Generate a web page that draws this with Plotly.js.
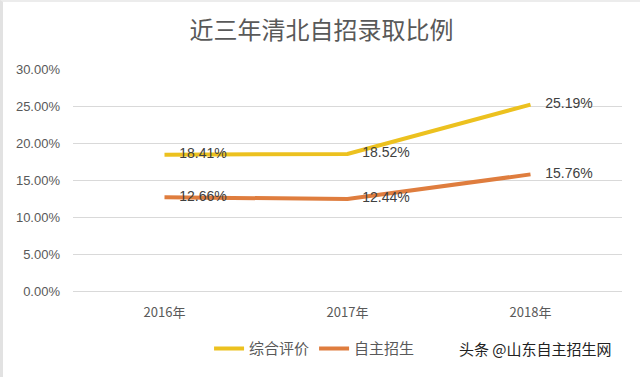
<!DOCTYPE html>
<html>
<head>
<meta charset="utf-8">
<script src="https://cdn.plot.ly/plotly-3.0.1.min.js"></script>
<style>
html,body{margin:0;padding:0;background:#fff;}
#wrap{width:637px;height:375px;border-left:3px solid #e2e2e2;border-top:2px solid #ececec;}
#chart{width:637px;height:375px;}
</style>
</head>
<body>
<div id="wrap"><div id="chart"></div></div>
<script>
var categories = ["2016年", "2017年", "2018年"];
var seriesNames = ["综合评价", "自主招生"];
var seriesColors = ["#ECC11F", "#DF7D3E"];
var zongheValues = [0.1841, 0.1852, 0.2519];
var zizhuValues = [0.1266, 0.1244, 0.1576];
var yTickValues = [0, 0.05, 0.10, 0.15, 0.20, 0.25, 0.30];
var yTickLabels = ["0.00%", "5.00%", "10.00%", "15.00%", "20.00%", "25.00%", "30.00%"];
var titleText = "近三年清北自招录取比例";
var watermark = "头条 @山东自主招生网";

function pctLabels(arr){ return arr.map(function(v){ return (v*100).toFixed(2) + "%"; }); }

var cjk = '"Noto Sans CJK SC", "Liberation Sans", sans-serif';
var latin = "Liberation Sans, Arial, sans-serif";

function dataTrace(vals, i){
  return {
    x: categories, y: vals, name: seriesNames[i], showlegend: false,
    type: "scatter", mode: "lines+markers+text",
    line: {color: seriesColors[i], width: 4},
    marker: {size: 22, opacity: 0, color: seriesColors[i]},
    text: pctLabels(vals), textposition: "middle right",
    textfont: {family: latin, size: 14, color: "#404040"},
    cliponaxis: false, hoverinfo: "skip"
  };
}
function legendTrace(i){
  return {
    x: [null], y: [null], name: seriesNames[i], type: "scatter", mode: "lines",
    line: {color: seriesColors[i], width: 4}, hoverinfo: "skip"
  };
}

var traces = [
  dataTrace(zongheValues, 0),
  dataTrace(zizhuValues, 1),
  legendTrace(0),
  legendTrace(1)
];

var layout = {
  width: 637, height: 375,
  margin: {l: 70, r: 18, t: 67, b: 79},
  paper_bgcolor: "#ffffff", plot_bgcolor: "#ffffff",
  showlegend: true,
  title: {text: titleText, x: 0.5, xanchor: "center", y: 0.925, yanchor: "middle",
          font: {family: cjk, size: 24, color: "#595959"}},
  xaxis: {
    type: "category", range: [-0.5, 2.5],
    showgrid: false, showline: false, zeroline: false, ticks: "",
    tickfont: {family: cjk, size: 13, color: "#595959"},
    ticklabelstandoff: 12, fixedrange: true
  },
  yaxis: {
    range: [0, 0.30], tickvals: yTickValues, ticktext: yTickLabels,
    showgrid: true, gridcolor: "#D9D9D9", gridwidth: 1,
    zeroline: true, zerolinecolor: "#D9D9D9", zerolinewidth: 1,
    showline: false, ticks: "",
    tickfont: {family: latin, size: 13, color: "#595959"},
    ticklabelstandoff: 12, fixedrange: true
  },
  legend: {
    orientation: "h", x: 0.44, xanchor: "center", y: -0.26, yanchor: "middle",
    font: {family: cjk, size: 15, color: "#595959"},
    itemwidth: 30, tracegroupgap: 0, bgcolor: "rgba(0,0,0,0)"
  },
  annotations: [{
    text: watermark, xref: "paper", yref: "paper", x: 0.985, xanchor: "right",
    y: -0.26, yanchor: "middle", showarrow: false,
    font: {family: cjk, size: 15, color: "#222222"}
  }]
};

Plotly.newPlot("chart", traces, layout, {displayModeBar: false, staticPlot: true});
</script>
</body>
</html>
